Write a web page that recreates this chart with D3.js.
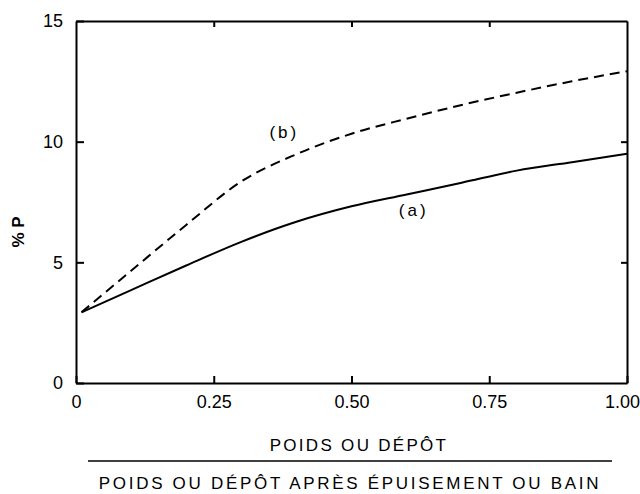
<!DOCTYPE html>
<meta charset="utf-8">
<body style="margin:0;background:#fff">
<script src="https://d3js.org/d3.v7.min.js"></script>
<style type="text/css">
  text {
    font-family: "Liberation Sans", Arial, sans-serif;
    fill: #000;
  }
  .axis text {
    font-size: 18px;
  }
</style>
<script>
// data
var xA = [0.01, 0.1, 0.2, 0.3, 0.4, 0.5, 0.6, 0.7, 0.8, 0.9, 1.0];
var curveA = [2.93, 3.85, 4.87, 5.85, 6.68, 7.32, 7.81, 8.3, 8.8, 9.15, 9.5];
var xB = [0.01, 0.1, 0.2, 0.3, 0.4, 0.5, 0.6, 0.7, 0.8, 0.9, 1.0];
var curveB = [2.93, 4.65, 6.55, 8.35, 9.48, 10.33, 10.95, 11.52, 12.03, 12.5, 12.92];
var xTicks = [0, 0.25, 0.5, 0.75, 1.0];
var xTickLabels = ["0", "0.25", "0.50", "0.75", "1.00"];
var yTicks = [0, 5, 10, 15];
var curveLabels = ["(a)", "(b)"];
var labelX = [0.613, 0.378];
var labelY = [7.17, 10.4];

var width = 640;
var height = 494;

var svg = d3.select("body")
            .append("svg")
            .attr("width", width)
            .attr("height", height);

var x = d3.scaleLinear()
          .domain([0, 1])
          .range([76, 627]);

var y = d3.scaleLinear()
          .domain([0, 15])
          .range([383, 21]);

var noLabel = function() { return ""; };

function inkAxis(g) {
  g.selectAll("path, line")
   .attr("stroke", "#000")
   .attr("stroke-width", 2);
}

// curves first
var line = d3.line()
             .x(function(d) { return x(d[0]); })
             .y(function(d) { return y(d[1]); })
             .curve(d3.curveMonotoneX);

svg.append("path")
   .datum(d3.zip(xA, curveA))
   .attr("fill", "none")
   .attr("stroke", "#000")
   .attr("stroke-width", 2)
   .attr("d", line);

svg.append("path")
   .datum(d3.zip(xB, curveB))
   .attr("fill", "none")
   .attr("stroke", "#000")
   .attr("stroke-width", 2)
   .attr("stroke-dasharray", "10,6")
   .attr("d", line);

svg.selectAll(".clabel")
   .data(curveLabels)
   .enter()
   .append("text")
   .attr("class", "clabel")
   .attr("x", function(d, i) { return x(labelX[i]); })
   .attr("y", function(d, i) { return y(labelY[i]); })
   .attr("dy", "0.35em")
   .attr("text-anchor", "middle")
   .style("font-size", "17px")
   .style("letter-spacing", "3px")
   .text(function(d) { return d; });

// y label
svg.append("text")
   .attr("transform", "translate(18,232) rotate(-90)")
   .attr("text-anchor", "middle")
   .attr("dy", "0.35em")
   .style("font-size", "17px")
   .style("font-weight", "bold")
   .text("% P");

// x label as a fraction
svg.append("text")
   .attr("x", 359)
   .attr("y", 451)
   .attr("text-anchor", "middle")
   .style("font-size", "17px")
   .style("letter-spacing", "2.3px")
   .text("POIDS OU DÉPÔT");

svg.append("path")
   .attr("d", "M88,461H612")
   .attr("stroke", "#000")
   .attr("stroke-width", 1.5);

svg.append("text")
   .attr("x", 350)
   .attr("y", 489)
   .attr("text-anchor", "middle")
   .style("font-size", "17px")
   .style("letter-spacing", "2.7px")
   .text("POIDS OU DÉPÔT APRÈS ÉPUISEMENT OU BAIN");

// axes and frame last, ticks pointing inward
var xAxis = svg.append("g")
   .attr("class", "axis")
   .attr("transform", "translate(0," + y(0) + ")")
   .call(d3.axisBottom(x)
           .tickValues(xTicks)
           .tickFormat(function(d, i) { return xTickLabels[i]; })
           .tickSizeInner(-7)
           .tickSizeOuter(0)
           .tickPadding(12))
   .call(inkAxis);

xAxis.selectAll(".tick text")
     .filter(function(d) { return d === 1; })
     .attr("dx", "-5");

svg.append("g")
   .attr("class", "axis")
   .attr("transform", "translate(" + x(0) + ",0)")
   .call(d3.axisLeft(y)
           .tickValues(yTicks)
           .tickFormat(d3.format("d"))
           .tickSizeInner(-8)
           .tickSizeOuter(0)
           .tickPadding(13))
   .call(inkAxis);

svg.append("g")
   .attr("class", "axis")
   .attr("transform", "translate(0," + y(15) + ")")
   .call(d3.axisTop(x)
           .tickValues([0.25, 0.5, 0.75])
           .tickFormat(noLabel)
           .tickSizeInner(-6)
           .tickSizeOuter(0))
   .call(inkAxis);

svg.append("g")
   .attr("class", "axis")
   .attr("transform", "translate(" + x(1) + ",0)")
   .call(d3.axisRight(y)
           .tickValues([5, 10])
           .tickFormat(noLabel)
           .tickSizeInner(-6)
           .tickSizeOuter(0))
   .call(inkAxis);
</script>
</body>
</html>
